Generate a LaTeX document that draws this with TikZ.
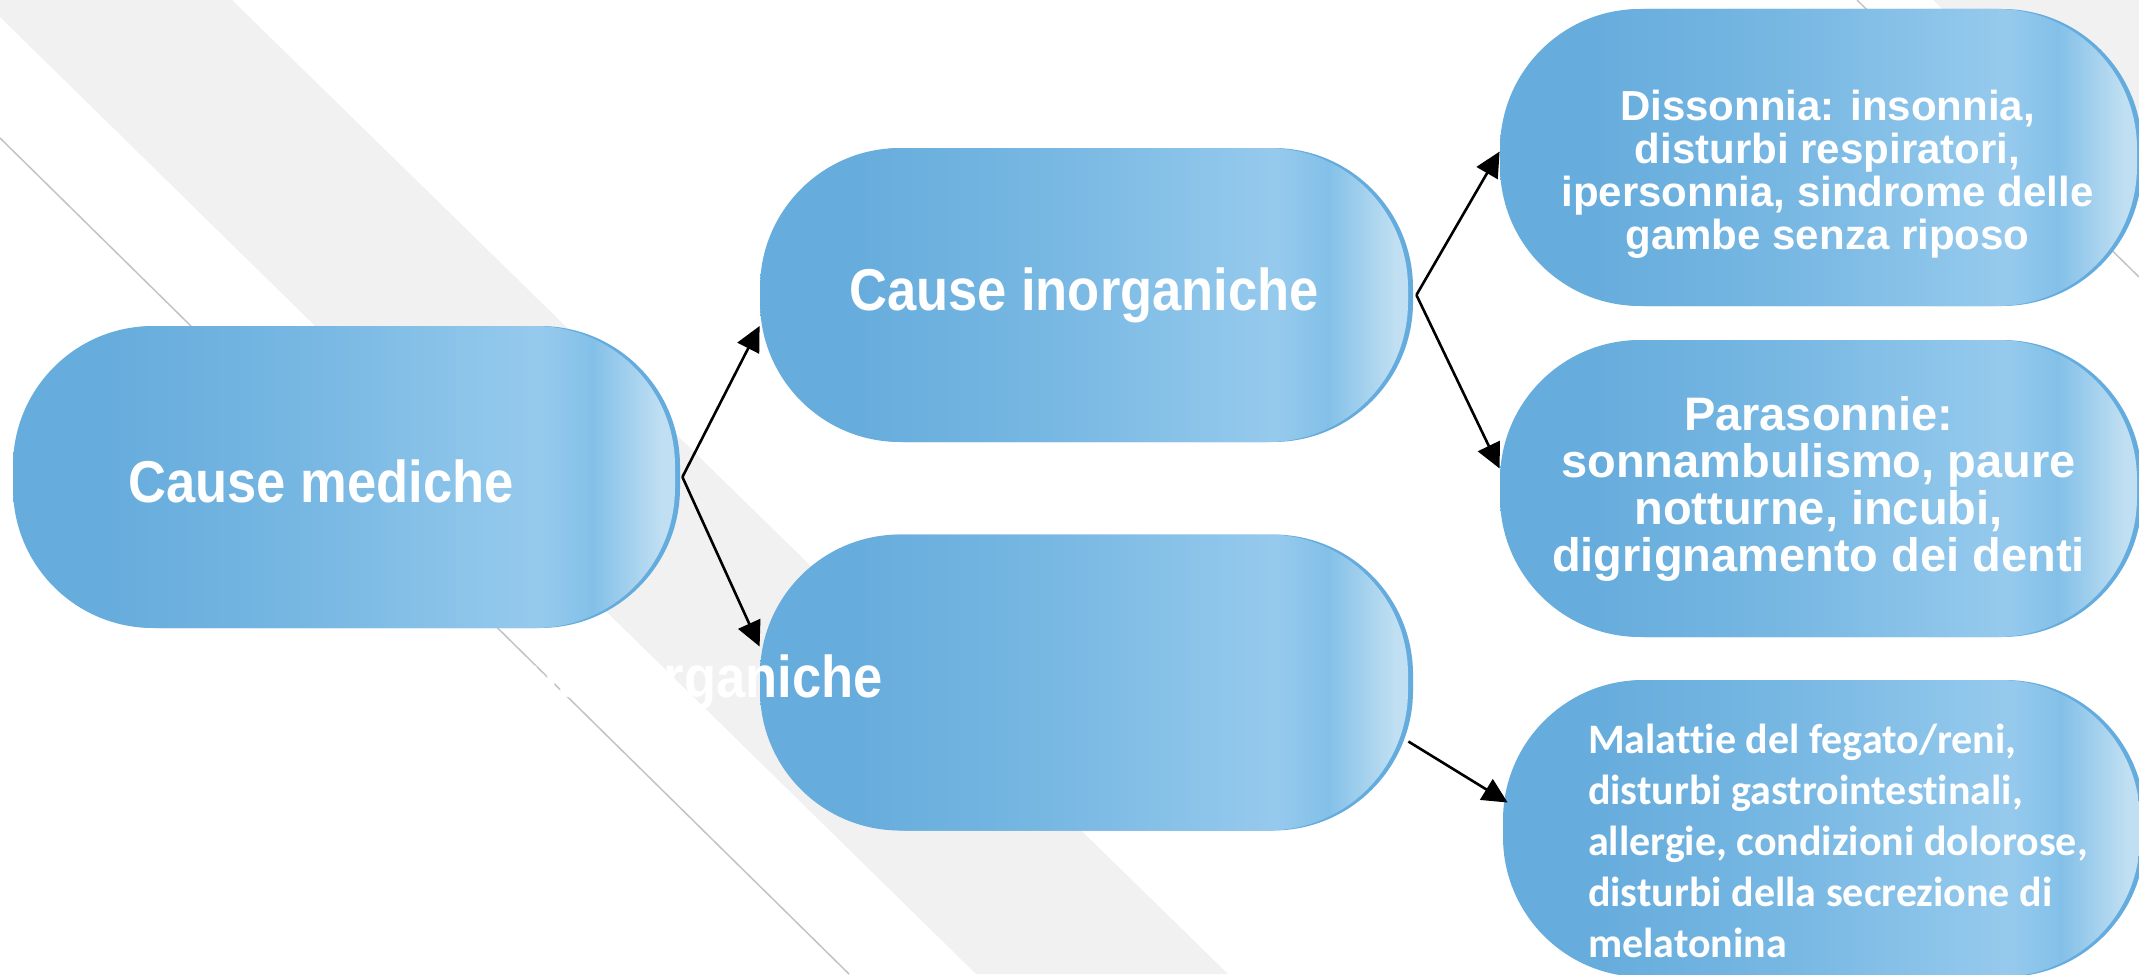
\documentclass[tikz,border=0pt]{standalone}
\usepackage{fontspec}
\setmainfont{Liberation Sans}
\newfontfamily\headfont[FakeStretch=0.89]{Liberation Sans}
\newfontfamily\calfont[Ligatures=NoCommon]{Carlito}
\usetikzlibrary{arrows.meta,shadows,calc}

\definecolor{pillA}{RGB}{102,172,220}
\definecolor{pillB}{RGB}{120,184,227}
\definecolor{pillC}{RGB}{150,202,237}
\definecolor{pillD}{RGB}{131,192,232}
\definecolor{pillE}{RGB}{192,223,242}
\definecolor{pillrim}{RGB}{100,171,222}
\definecolor{bandgray}{RGB}{241,241,241}
\definecolor{stripegray}{RGB}{195,195,195}

\pgfdeclarehorizontalshading{pillshade}{100bp}{color(0bp)=(pillA);
  color(25bp)=(pillA); color(32bp)=(pillA); color(48bp)=(pillB);
  color(64.8bp)=(pillC); color(68.8bp)=(pillD); color(74bp)=(pillE);
  color(100bp)=(pillE)}

\begin{document}
\begin{tikzpicture}[x=0.5pt,y=-0.5pt]
  \tikzstyle{pill}=[rectangle, rounded corners=70pt, minimum width=324pt,
    minimum height=147pt, inner sep=0pt, shading=pillshade, text=white,
    general shadow={fill=pillrim, shadow scale=1, shadow xshift=2.5pt,
      shadow yshift=0pt}]
  \tikzstyle{head}=[text=white, font=\headfont\bfseries\fontsize{29.5}{31}\selectfont]
  \tikzstyle{dis}=[text=white, align=center, font=\bfseries\fontsize{21}{21.5}\selectfont]
  \tikzstyle{para}=[text=white, align=center, font=\bfseries\fontsize{23.5}{23.5}\selectfont]
  \tikzstyle{mal}=[text=white, align=left, inner sep=0pt,
    font=\calfont\bfseries\fontsize{21}{25.5}\selectfont]
  \tikzstyle{link}=[-{Triangle[length=12.5pt,width=12pt]}, line width=1.3pt]

  \useasboundingbox (0,0) rectangle (2139,974);
  \clip (0,0) rectangle (2139,974);

  % background stripes
  \fill[bandgray] (0,0) -- (232,0) -- (1228,974) -- (976,974) -- (0,17) -- cycle;
  \fill[bandgray] (1933,0) -- (2139,0) -- (2139,202) -- cycle;
  \draw[stripegray, line width=0.75pt] (0,138) -- (849,974);
  \draw[stripegray, line width=0.75pt] (1857,0) -- (2139,277);

  % boxes
  \node[pill, minimum width=331pt, minimum height=151pt] (n1) at (344,477) {};
  \node[head] (n1txt) at ([xshift=-11.5pt,yshift=-2pt]n1.center) {Cause mediche};
  \node[pill, head] (n2) at (1084,295) {Cause inorganiche};
  \node[pill, minimum height=148pt] (n3) at (1084,682.5) {};
  \node[head] (n3txt) at ([xshift=-206.5pt]n3.center) {Cause organiche};

  \node[pill, minimum width=318.5pt, minimum height=148.5pt] (n4)
    at (1818.5,157.5) {};
  \node[dis] (n4txt) at ([xshift=4.5pt,yshift=-8.5pt]n4.center)
    {Dissonnia: insonnia,\\disturbi respiratori,\\
    ipersonnia, sindrome delle\\gambe senza riposo};
  \node[pill, para, minimum width=318.5pt, minimum height=148.5pt] (n5)
    at (1818.5,488.5) {Parasonnie:\\sonnambulismo, paure\\notturne, incubi,\\
    digrignamento dei denti};
  \node[pill, minimum width=318.5pt, minimum height=148.5pt] (n6)
    at (1821.5,828.5) {};
  \node[mal, anchor=west] (n6txt) at ([xshift=42.5pt,yshift=-6pt]n6.west)
    {Malattie del fegato/reni,\\disturbi gastrointestinali,\\
    allergie, condizioni dolorose,\\disturbi della secrezione di\\melatonina};

  % connectors
  \coordinate (f1) at ([xshift=3.5pt]n1.east);
  \coordinate (f2) at ([xshift=4pt]n2.east);
  \draw[link] (f1) -- ([yshift=-15.5pt]n2.west);
  \draw[link] (f1) -- ([yshift=18pt]n3.west);
  \draw[link] (f2) -- ([yshift=3pt]n4.west);
  \draw[link] (f2) -- ([yshift=10pt]n5.west);
  \draw[link] ([yshift=-29.5pt]n3.east) -- ([xshift=2.5pt,yshift=13pt]n6.west);
\end{tikzpicture}
\end{document}
